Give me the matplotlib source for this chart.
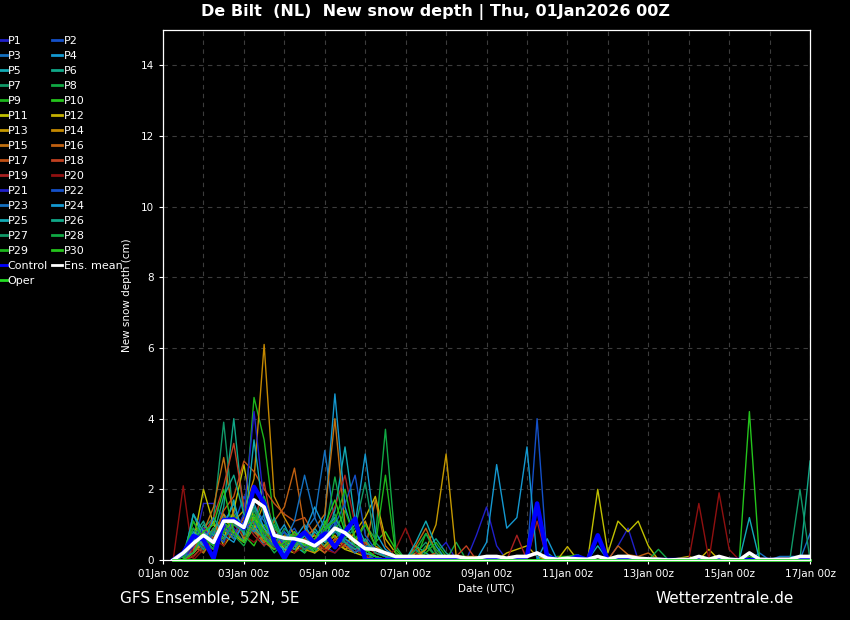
import numpy as np
import matplotlib
matplotlib.use('Agg')
import matplotlib.pyplot as plt

# 6-hourly steps, hours after 01Jan 00z
hours = np.arange(1, 65) * 6

tick_hours = [0, 48, 96, 144, 192, 240, 288, 336, 384]
tick_labels = ['01Jan 00z', '03Jan 00z', '05Jan 00z', '07Jan 00z', '09Jan 00z',
               '11Jan 00z', '13Jan 00z', '15Jan 00z', '17Jan 00z']

# new snow depth (cm)
p1 = [0, 0, 0.3, 1.6, 1.6, 1.2, 0.9, 0.5, 1.0, 0.8, 0.4, 0.2, 0.5, 0.3, 0.6, 0.4, 0.2, 0.5, 0.3, 0.1, 0, 0, 0, 0,
      0, 0, 0.2, 0.5, 0, 0, 0.7, 1.5, 0.4, 0, 0, 0, 0, 0, 0, 0, 0, 0, 0, 0,
      0.4, 0.9, 0, 0, 0, 0, 0, 0, 0, 0, 0, 0, 0, 0, 0, 0, 0, 0, 0, 0]
p2 = [0, 0.1, 0.5, 0.8, 0.4, 1.3, 1.0, 1.8, 1.2, 0.7, 0.3, 0.6, 0.9, 0.4, 0.2, 0.7, 1.1, 0.5, 0.3, 0.2, 0.1, 0, 0, 0,
      0, 0, 0, 0, 0, 0, 0, 0, 0, 0, 0, 0, 4.0, 0, 0, 0, 0, 0, 0, 0,
      0, 0, 0, 0, 0, 0, 0, 0, 0, 0, 0, 0, 0, 0, 0, 0, 0, 0, 0, 0]
p3 = [0, 0, 0.2, 0.5, 0.9, 0.6, 1.4, 0.8, 1.5, 1.1, 0.5, 0.3, 0.4, 0.8, 1.2, 3.1, 1.0, 0.6, 0.4, 0.2, 0, 0, 0.1, 0,
      0.3, 0, 0, 0, 0, 0, 0, 0, 0, 0, 0, 0, 0, 0, 0, 0, 0, 0, 0, 0,
      0, 0, 0, 0, 0, 0, 0, 0, 0, 0, 0, 0, 0, 0, 0.2, 0, 0.1, 0.1, 0.1, 0]
p4 = [0, 0.2, 0.9, 0.4, 0.7, 1.1, 0.6, 1.3, 0.9, 0.4, 0.8, 0.2, 0.6, 1.0, 0.5, 1.2, 4.7, 1.5, 0.6, 0.3, 0.1, 0, 0, 0,
      0.2, 0, 0, 0, 0, 0, 0, 0, 0, 0, 0, 0, 0, 0, 0, 0, 0, 0, 0, 0,
      0, 0, 0, 0, 0, 0, 0, 0, 0, 0, 0, 0, 0, 0, 0, 0, 0, 0, 0, 0]
p5 = [0, 0, 1.3, 0.6, 0.3, 0.9, 1.7, 0.5, 1.2, 0.8, 0.3, 0.7, 0.4, 0.2, 0.9, 0.5, 1.4, 3.2, 1.1, 0.5, 0.2, 0.1, 0, 0,
      0.4, 0.2, 0, 0, 0, 0, 0, 0, 0, 0, 0, 0, 0, 0.2, 0, 0, 0, 0, 0, 0,
      0, 0, 0, 0, 0, 0, 0, 0, 0, 0, 0, 0, 0, 0, 0, 0, 0, 0, 0, 0]
p6 = [0, 0.1, 0.7, 1.1, 0.5, 1.5, 4.0, 1.2, 0.8, 0.5, 1.0, 0.4, 0.3, 0.7, 0.2, 0.6, 0.9, 0.4, 0.2, 0.5, 0.3, 0.1, 0, 0,
      0, 0.3, 0.6, 0.2, 0, 0, 0, 0, 0, 0, 0, 0, 0, 0, 0, 0, 0, 0, 0, 0,
      0, 0, 0, 0, 0, 0, 0, 0, 0, 0, 0, 0, 0, 0, 0, 0, 0, 0, 0, 0]
p7 = [0, 0, 0.4, 0.9, 1.2, 3.9, 1.1, 0.6, 1.4, 0.9, 0.5, 0.8, 0.3, 0.5, 0.7, 0.4, 1.0, 0.6, 0.3, 0.2, 0, 0, 0, 0,
      0.2, 0.5, 0.1, 0, 0, 0, 0, 0, 0, 0, 0, 0, 0, 0, 0, 0, 0.15, 0, 0, 0,
      0, 0, 0, 0, 0, 0, 0, 0, 0, 0, 0, 0, 0, 0, 0, 0, 0, 0, 0, 0]
p8 = [0, 0.2, 1.1, 0.5, 0.3, 0.8, 0.6, 1.0, 1.3, 0.6, 0.2, 0.5, 0.7, 0.3, 0.4, 0.8, 1.2, 0.7, 0.5, 1.0, 0.6, 3.7, 0.4, 0,
      0, 0.4, 0.1, 0, 0.5, 0, 0, 0, 0, 0, 0, 0, 0, 0, 0, 0, 0, 0, 0, 0,
      0, 0, 0, 0, 0, 0, 0, 0, 0, 0, 0, 0, 0, 0, 0, 0, 0, 0, 0, 0]
p9 = [0, 0, 0.3, 0.7, 0.4, 1.2, 0.8, 1.0, 4.6, 3.4, 1.1, 0.4, 0.6, 0.2, 0.5, 0.3, 0.8, 1.4, 0.6, 0.3, 0.1, 0, 0, 0,
      0, 0.75, 0.3, 0, 0, 0, 0, 0, 0, 0, 0, 0, 0, 0, 0.1, 0.1, 0, 0.05, 0.1, 0.05,
      0, 0, 0, 0, 0, 0, 0, 0, 0, 0, 0, 0, 0, 0, 0, 0, 0, 0, 0, 0]
p10 = [0, 0.1, 0.6, 0.2, 0.9, 0.5, 1.3, 0.7, 0.4, 1.0, 0.6, 0.3, 0.8, 0.5, 0.2, 1.1, 0.6, 0.9, 0.4, 0.2, 0.5, 0.8, 0.3, 0,
       0, 0, 0, 0, 0, 0, 0, 0, 0, 0, 0, 0, 0, 0, 0, 0, 0, 0, 0, 0,
       0, 0, 0, 0, 0, 0, 0, 0, 0, 0, 0, 0, 0, 4.2, 0, 0, 0, 0, 0, 0]
p11 = [0, 0, 0.5, 2.0, 1.0, 0.6, 1.4, 2.7, 1.0, 0.5, 0.8, 0.3, 0.2, 0.6, 0.4, 0.2, 0.5, 0.3, 0.2, 0.1, 0, 0, 0, 0,
       0, 0, 0, 0, 0, 0, 0, 0, 0, 0, 0, 0, 0, 0, 0, 0, 0, 0, 2.0, 0.2,
       1.1, 0.8, 1.1, 0.4, 0, 0, 0, 0, 0, 0, 0, 0, 0, 0, 0, 0, 0, 0, 0, 0]
p12 = [0, 0, 0.2, 0.6, 1.1, 0.4, 0.8, 0.5, 1.2, 0.9, 0.4, 0.6, 0.3, 0.5, 0.7, 0.3, 0.6, 0.4, 0.8, 1.2, 1.8, 0.6, 0.2, 0,
       0, 0, 0, 0, 0, 0, 0, 0, 0, 0.2, 0.3, 0.4, 0.1, 0, 0, 0.38, 0, 0, 0, 0,
       0, 0, 0, 0, 0, 0, 0.05, 0.1, 0, 0.3, 0, 0, 0, 0, 0, 0, 0, 0, 0, 0]
p13 = [0, 0, 0.1, 0.4, 0.8, 1.3, 0.7, 0.5, 0.9, 1.6, 0.8, 0.4, 0.6, 0.3, 0.2, 0.4, 0.7, 0.3, 0.5, 1.1, 0.4, 0.2, 0.1, 0,
       0.1, 0.3, 1.0, 3.0, 0.1, 0.1, 0.1, 0, 0, 0, 0, 0, 0, 0, 0, 0, 0, 0, 0, 0,
       0, 0, 0, 0, 0, 0, 0, 0, 0, 0, 0, 0, 0, 0, 0, 0, 0, 0, 0, 0]
p14 = [0, 0, 0.2, 0.5, 0.9, 0.6, 1.1, 1.4, 2.3, 6.1, 1.8, 1.2, 0.7, 0.4, 0.6, 0.3, 0.5, 0.8, 0.4, 0.2, 0.1, 0, 0, 0,
       0.2, 0.1, 0, 0, 0, 0, 0, 0, 0, 0, 0, 0, 0, 0, 0, 0, 0, 0, 0, 0,
       0, 0, 0, 0, 0, 0, 0, 0, 0, 0, 0, 0, 0, 0, 0, 0, 0, 0, 0, 0]
p15 = [0, 0, 0.3, 0.8, 1.5, 2.9, 1.2, 0.6, 0.9, 0.5, 0.3, 0.7, 0.4, 0.6, 0.9, 1.3, 4.0, 1.0, 0.5, 0.3, 1.7, 0.4, 0.1, 0,
       0.4, 0, 0, 0, 0, 0, 0, 0, 0, 0, 0, 0, 0, 0, 0, 0, 0, 0, 0, 0,
       0, 0, 0, 0, 0, 0, 0, 0, 0, 0, 0, 0, 0, 0, 0, 0, 0, 0, 0, 0]
p16 = [0, 0.1, 0.4, 0.2, 0.6, 1.0, 0.7, 1.2, 0.8, 0.5, 1.1, 1.5, 2.6, 0.9, 0.5, 0.3, 0.6, 0.4, 0.2, 0.5, 0.3, 0.1, 0, 0,
       0.4, 0.9, 0.2, 0, 0, 0, 0, 0, 0, 0, 0, 0, 0, 0, 0, 0, 0, 0, 0, 0,
       0.4, 0.15, 0.1, 0.2, 0, 0, 0, 0, 0, 0, 0, 0, 0, 0, 0, 0, 0, 0, 0, 0]
p17 = [0, 0, 0.2, 0.9, 0.6, 1.4, 1.8, 2.8, 2.5, 2.0, 1.6, 1.3, 1.1, 1.2, 0.7, 0.5, 0.9, 0.6, 0.3, 0.4, 0.2, 0.1, 0, 0,
       0, 0.1, 0.2, 0, 0, 0, 0, 0, 0, 0, 0, 0, 0, 0, 0, 0, 0, 0, 0, 0,
       0, 0, 0, 0, 0, 0, 0, 0, 0, 0, 0, 0, 0, 0, 0, 0, 0, 0, 0, 0]
p18 = [0, 0, 0.3, 0.7, 1.2, 2.1, 3.3, 1.5, 1.0, 2.2, 0.6, 0.4, 0.8, 0.3, 0.5, 0.2, 0.6, 0.4, 0.3, 0.1, 0, 0, 0, 0,
       0, 0, 0, 0, 0.1, 0.4, 0, 0, 0, 0, 0, 0, 0, 0, 0, 0, 0, 0, 0, 0,
       0, 0, 0, 0, 0, 0, 0, 0, 0, 0, 0, 0, 0, 0, 0, 0, 0, 0, 0, 0]
p19 = [0, 0, 0.1, 0.4, 0.3, 0.9, 0.6, 1.1, 0.7, 0.4, 0.9, 0.5, 0.3, 0.6, 0.4, 0.9, 1.5, 2.4, 1.0, 0.4, 0.2, 0.1, 0, 0,
       0, 0, 0, 0, 0, 0, 0, 0, 0, 0, 0.7, 0, 1.1, 0, 0, 0, 0, 0, 0, 0,
       0, 0, 0, 0, 0, 0, 0, 0, 0, 0, 0, 0, 0, 0, 0, 0, 0, 0, 0, 0]
p20 = [0, 2.1, 0, 0.3, 0.6, 0.4, 1.0, 0.7, 0.5, 0.8, 0.3, 0.5, 0.2, 0.4, 0.6, 0.3, 0.2, 0.5, 0.3, 0.1, 0.2, 0.1, 0.3, 0.9,
       0.2, 0, 0, 0, 0, 0, 0, 0, 0, 0, 0, 0, 0, 0, 0, 0, 0, 0, 0, 0,
       0, 0, 0, 0, 0, 0, 0, 0, 1.6, 0, 1.9, 0.3, 0, 0, 0, 0, 0, 0, 0, 0]
p21 = [0, 0, 0.4, 0.9, 0.5, 1.0, 0.7, 1.3, 4.2, 1.6, 0.8, 0.4, 0.7, 0.3, 0.5, 0.9, 0.4, 0.6, 0.3, 0.2, 0.1, 0, 0, 0,
       0, 0, 0, 0, 0, 0, 0, 0, 0, 0, 0, 0, 0, 0, 0, 0, 0.1, 0, 0, 0,
       0, 0, 0, 0, 0, 0, 0, 0, 0, 0, 0, 0, 0, 0, 0, 0, 0, 0, 0, 0]
p22 = [0, 0, 0.6, 0.3, 0.8, 0.5, 1.2, 0.9, 1.1, 0.6, 0.4, 0.8, 0.5, 0.7, 0.3, 0.6, 1.0, 1.6, 2.4, 0.7, 0.3, 0.1, 0, 0,
       0, 0, 0, 0, 0, 0, 0, 0, 0, 0, 0, 0, 0, 0, 0, 0, 0, 0, 0, 0,
       0, 0, 0, 0, 0, 0, 0, 0, 0, 0, 0, 0, 0, 0, 0, 0, 0, 0, 0, 0]
p23 = [0, 0.1, 0.2, 0.7, 0.4, 0.9, 0.6, 1.0, 0.8, 1.3, 0.7, 0.5, 1.1, 2.4, 1.2, 0.6, 0.8, 0.5, 0.2, 0.4, 0.3, 0.1, 0, 0,
       0, 0, 0, 0, 0, 0, 0, 0, 0, 0, 0, 0, 0, 0, 0, 0, 0, 0, 0, 0,
       0, 0, 0, 0, 0, 0, 0, 0, 0, 0, 0, 0, 0, 0, 0, 0, 0, 0, 0, 0.75]
p24 = [0, 0, 0.8, 0.4, 1.2, 0.7, 0.5, 1.1, 1.6, 0.9, 0.6, 1.0, 0.4, 0.8, 1.5, 0.9, 1.2, 0.7, 1.0, 3.0, 0.8, 0.3, 0.1, 0,
       0, 0, 0, 0, 0, 0, 0, 0.5, 2.7, 0.9, 1.2, 3.2, 0, 0.6, 0, 0, 0, 0, 0, 0,
       0, 0, 0, 0, 0, 0, 0, 0, 0, 0, 0, 0, 0, 0, 0, 0, 0, 0, 0, 0]
p25 = [0, 0, 1.3, 0.8, 0.5, 1.0, 1.6, 0.7, 3.4, 1.2, 0.5, 0.3, 0.6, 0.4, 0.8, 0.5, 0.9, 0.6, 0.4, 0.2, 0.1, 0, 0, 0,
       0.5, 1.1, 0.4, 0, 0, 0, 0, 0, 0, 0, 0, 0, 0, 0, 0, 0, 0, 0, 0.4, 0,
       0, 0, 0, 0, 0, 0, 0, 0, 0, 0, 0, 0, 0, 1.2, 0, 0, 0, 0, 0, 0]
p26 = [0, 0.2, 0.5, 1.0, 0.7, 1.8, 2.4, 1.3, 0.9, 0.6, 1.2, 0.5, 0.3, 0.7, 0.4, 0.6, 0.9, 0.5, 0.3, 0.6, 0.2, 0.1, 0, 0,
       0, 0, 0, 0, 0, 0, 0, 0, 0, 0, 0, 0, 0, 0, 0, 0, 0, 0, 0, 0,
       0, 0, 0, 0, 0, 0, 0, 0, 0, 0, 0, 0, 0, 0, 0, 0, 0, 0, 0, 2.8]
p27 = [0, 0, 0.7, 0.3, 0.9, 0.6, 1.0, 0.8, 1.5, 0.7, 0.4, 0.9, 0.6, 0.3, 0.5, 0.8, 1.3, 0.6, 0.9, 2.2, 0.5, 0.2, 0, 0,
       0, 0, 0, 0, 0, 0, 0, 0, 0, 0, 0, 0, 0, 0, 0, 0, 0, 0, 0, 0,
       0, 0, 0, 0, 0, 0, 0, 0, 0, 0, 0, 0, 0, 0, 0, 0, 0, 0, 2.0, 0]
p28 = [0, 0.1, 0.9, 0.5, 0.3, 1.1, 0.7, 0.4, 1.0, 1.8, 0.9, 0.6, 0.4, 0.8, 0.5, 0.7, 2.35, 0.9, 0.4, 0.3, 0.1, 0, 0, 0,
       0.3, 0.75, 0.2, 0, 0, 0, 0, 0, 0, 0, 0, 0, 0, 0, 0, 0, 0, 0, 0, 0,
       0, 0, 0, 0, 0.3, 0, 0, 0, 0, 0, 0, 0, 0, 0, 0, 0, 0, 0, 0, 0]
p29 = [0, 0, 1.1, 0.6, 0.4, 0.8, 1.2, 0.9, 1.3, 0.8, 0.5, 0.4, 0.7, 0.5, 0.3, 0.9, 1.1, 2.0, 0.6, 1.0, 0.4, 2.4, 0.2, 0,
       0, 0.2, 0.5, 0.1, 0, 0, 0, 0, 0, 0, 0, 0, 0, 0, 0, 0.1, 0.15, 0, 0, 0,
       0, 0, 0, 0, 0, 0, 0, 0, 0, 0, 0, 0, 0, 0, 0, 0, 0, 0, 0, 0]
p30 = [0, 0, 0.2, 0.8, 1.0, 2.0, 0.8, 0.5, 1.2, 0.6, 0.3, 0.5, 0.8, 0.4, 0.6, 1.0, 1.7, 0.8, 0.5, 0.3, 0.1, 0, 0, 0,
       0.1, 0, 0, 0, 0, 0, 0, 0, 0, 0, 0, 0, 0, 0, 0, 0, 0, 0, 0, 0,
       0, 0, 0, 0, 0, 0, 0, 0, 0, 0, 0, 0, 0, 0.1, 0, 0, 0, 0, 0, 0]

control = [0, 0.2, 0.68, 0.57, 0.05, 1.13, 1.15, 0.9, 2.07, 1.6, 0.52, 0.05, 0.55, 0.78, 0.47, 0.75, 0.36, 0.8, 1.17, 0, 0, 0, 0, 0,
           0, 0, 0, 0, 0, 0, 0, 0, 0, 0, 0, 0.1, 1.6, 0.1, 0, 0, 0.1, 0, 0.7, 0,
           0, 0, 0, 0, 0, 0, 0, 0, 0, 0, 0, 0, 0, 0, 0, 0, 0, 0, 0, 0]
ens_mean = [0, 0.2, 0.47, 0.7, 0.5, 1.1, 1.1, 0.92, 1.7, 1.5, 0.7, 0.62, 0.6, 0.53, 0.4, 0.6, 0.9, 0.77, 0.53, 0.32, 0.3, 0.2, 0.1, 0.1,
            0.1, 0.1, 0.1, 0.1, 0.1, 0.05, 0.05, 0.1, 0.1, 0.05, 0.1, 0.1, 0.2, 0.05, 0.02, 0.05, 0.03, 0.02, 0.1, 0.02,
            0.1, 0.1, 0.05, 0.03, 0.02, 0, 0.01, 0.01, 0.1, 0.02, 0.1, 0.02, 0, 0.2, 0.02, 0.01, 0.02, 0.02, 0.1, 0.1]
oper = [0] * 64

members = [p1, p2, p3, p4, p5, p6, p7, p8, p9, p10, p11, p12, p13, p14, p15,
           p16, p17, p18, p19, p20, p21, p22, p23, p24, p25, p26, p27, p28, p29, p30]

# 20 colours, blue -> red, reused for P21..P30
member_colors = ['#2020c8', '#1450c8', '#1470c0', '#1498d0', '#12aab4', '#10a888', '#109868',
                 '#10a844', '#1cb41c', '#24c41c', '#c0c000', '#c4b000', '#c49800', '#c48800',
                 '#c07010', '#c06010', '#c05014', '#c04020', '#a82020', '#901010']

fig = plt.figure(figsize=(8.5, 6.2), dpi=100, facecolor='black')
ax = fig.add_axes([0.1918, 0.0968, 0.7612, 0.8548], facecolor='black')

lines = []
for n, vals in enumerate(members):
    ln, = ax.plot(hours, vals, color=member_colors[n % 20], lw=1.0, label=f'P{n + 1}')
    lines.append(ln)

ln_ctrl, = ax.plot(hours, control, color='#0000ff', lw=3.2, label='Control')
ln_mean, = ax.plot(hours, ens_mean, color='white', lw=2.6, label='Ens. mean')
ln_oper, = ax.plot(hours, oper, color='#22dd22', lw=2.0, label='Oper', clip_on=False)

ax.set_xlim(0, 384)
ax.set_ylim(0, 15)
ax.set_xticks(tick_hours)
ax.set_xticklabels(tick_labels)
ax.set_xticks(np.arange(0, 385, 24), minor=True)
ax.set_yticks(np.arange(0, 15, 2))

ax.grid(which='both', axis='x', color='#3c3c3c', ls=(0, (4, 4)), lw=0.8)
ax.grid(which='major', axis='y', color='#3c3c3c', ls=(0, (4, 4)), lw=0.8)
ax.tick_params(colors='white', labelsize=7.5, length=3)
ax.tick_params(which='minor', length=0)
for sp in ax.spines.values():
    sp.set_color('white')
    sp.set_linewidth(0.9)

ax.set_xlabel('Date (UTC)', color='white', fontsize=7.5, labelpad=3)
ax.set_ylabel('New snow depth (cm)', color='white', fontsize=7.5, labelpad=6)

fig.text(0.512, 0.981, 'De Bilt  (NL)  New snow depth | Thu, 01Jan2026 00Z',
         color='white', fontsize=11.5, fontweight='bold', ha='center', va='center')
fig.text(0.141, 0.034, 'GFS Ensemble, 52N, 5E', color='white', fontsize=11, ha='left', va='center')
fig.text(0.934, 0.034, 'Wetterzentrale.de', color='white', fontsize=11, ha='right', va='center')

# two legend columns: odd members + Control/Oper, even members + Ens. mean
col1 = lines[0::2] + [ln_ctrl, ln_oper]
col2 = lines[1::2] + [ln_mean]
handles = col1 + col2
leg = fig.legend(handles, [h.get_label() for h in handles], ncol=2, loc='upper left',
                 bbox_to_anchor=(-0.004, 0.942), frameon=False, fontsize=8, labelcolor='white',
                 handlelength=0.9, handletextpad=0.1, columnspacing=0.4, labelspacing=0.45,
                 borderpad=0, borderaxespad=0)
for lh in leg.get_lines():
    lh.set_linewidth(2.0)

fig.savefig('out.png', dpi=100, facecolor='black')
